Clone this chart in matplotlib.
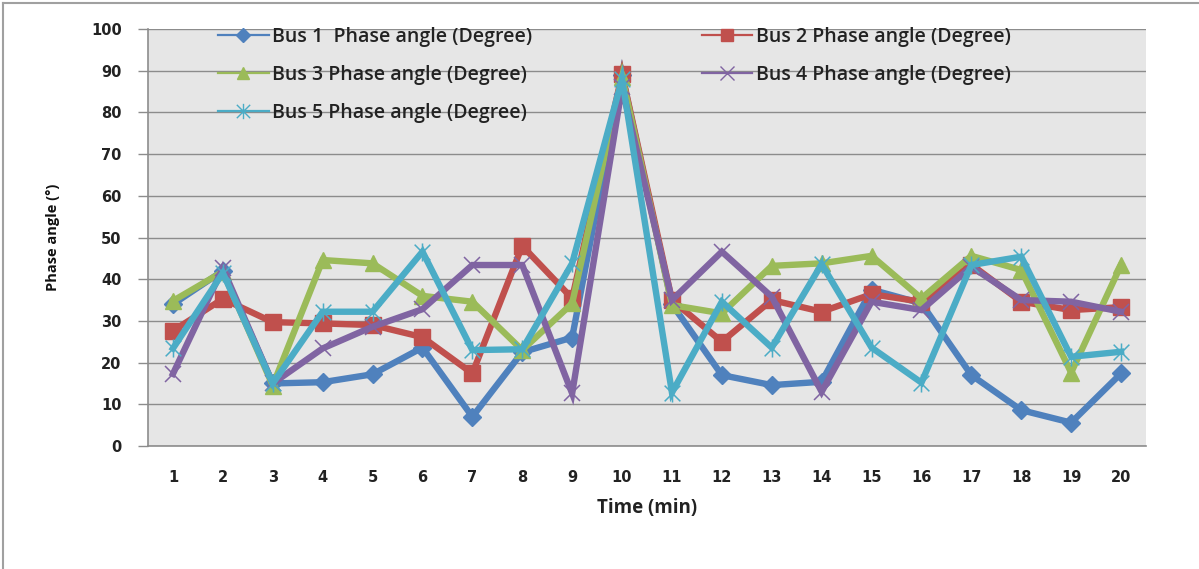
import matplotlib
matplotlib.use("Agg")
import matplotlib.pyplot as plt
from matplotlib.lines import Line2D
from matplotlib.path import Path
import numpy as np

# values
minutes = list(range(1, 21))
bus1 = [34, 42, 15, 15.3, 17.2, 23.6, 7, 22.5, 26, 89,
        34, 17, 14.6, 15.4, 37.5, 34.2, 17, 8.6, 5.6, 17.4]
bus2 = [27.6, 35.3, 29.7, 29.4, 29, 26.1, 17.4, 48, 35.4, 89.2,
        35, 25, 35, 32.2, 36.4, 34.6, 43.5, 34.6, 32.6, 33.3]
bus3 = [34.8, 41.8, 14.5, 44.6, 43.8, 36, 34.6, 23, 34.2, 88.5,
        33.8, 31.8, 43.2, 43.8, 45.6, 35.4, 45.6, 42.2, 17.6, 43.4]
bus4 = [17.3, 42.6, 15, 23.4, 28.6, 32.8, 43.4, 43.4, 12.6, 86,
        35, 46.6, 35.8, 13, 34.6, 32.6, 43, 35, 34.6, 32.2]
bus5 = [23.4, 41.5, 15, 32.2, 32.2, 46.6, 23, 23.2, 43.8, 88,
        12.8, 34.6, 23.6, 43.6, 23.6, 15.2, 43.4, 45.4, 21.4, 22.6]

labels = ["Bus 1  Phase angle (Degree)", "Bus 2 Phase angle (Degree)",
          "Bus 3 Phase angle (Degree)", "Bus 4 Phase angle (Degree)",
          "Bus 5 Phase angle (Degree)"]
colors = ["#4F81BD", "#C0504D", "#9BBB59", "#8064A2", "#4BACC6"]

star = Path([(-1, -1), (1, 1), (-1, 1), (1, -1), (0, -1.15), (0, 1.15)],
            [Path.MOVETO, Path.LINETO, Path.MOVETO, Path.LINETO, Path.MOVETO, Path.LINETO])

# marker style per series: (marker, size, filled)
styles = [("D", 9, True), ("s", 11, True), ("^", 12, True), ("x", 12, False), (star, 13, False)]

fig = plt.figure(figsize=(11.99, 5.69), dpi=100)
ax = fig.add_axes([148 / 1199, 123 / 569, 998 / 1199, 417 / 569])
ax.set_facecolor("#E6E6E6")

series = [bus1, bus2, bus3, bus4, bus5]
handles = []
for vals, col, (mk, ms, filled), lab in zip(series, colors, styles, labels):
    if filled:
        ax.plot(minutes, vals, color=col, lw=4.6, marker=mk, ms=ms,
                mfc=col, mec=col, solid_joinstyle="miter", zorder=3)
        h = Line2D([], [], color=col, lw=1.6, marker=mk, ms=ms * 0.75, mfc=col, mec=col)
    else:
        ax.plot(minutes, vals, color=col, lw=4.6, marker=mk, ms=ms,
                mfc="none", mec=col, mew=1.1, solid_joinstyle="miter", zorder=3)
        h = Line2D([], [], color=col, lw=1.6, marker=mk, ms=ms * 0.85, mfc="none", mec=col, mew=1.0)
    handles.append(h)

ax.set_xlim(0.5, 20.5)
ax.set_ylim(0, 100)
ax.set_yticks(range(0, 101, 10))
ax.set_xticks(minutes)
ax.grid(axis="y", color="#8C8C8C", lw=1.0, zorder=0)
ax.set_axisbelow(True)

for s in ["top", "right"]:
    ax.spines[s].set_visible(False)
for s in ["left", "bottom"]:
    ax.spines[s].set_color("#8C8C8C")
    ax.spines[s].set_linewidth(1.2)

ax.tick_params(axis="y", length=7, color="#8C8C8C", width=1.0, pad=12)
ax.tick_params(axis="x", length=0, pad=17)
for t in ax.get_yticklabels() + ax.get_xticklabels():
    t.set_fontfamily("DejaVu Sans")
    t.set_fontweight("bold")
    t.set_fontsize(10.5)
    t.set_color("#222222")

ax.set_xlabel("Time (min)", fontsize=13.5, fontweight="bold", family=["Open Sans", "DejaVu Sans"],
              labelpad=10, color="#222222")
ax.set_ylabel("Phase angle (°)", fontsize=10.5, fontweight="bold",
              family=["Open Sans", "DejaVu Sans"], labelpad=22, color="#111111")

# column-major legend order: 1,3,5 then 2,4
order = [0, 2, 4, 1, 3]
leg = ax.legend([handles[i] for i in order], [labels[i] for i in order], ncol=2,
                loc="upper left", bbox_to_anchor=(218 / 1199, 1 - 27 / 569),
                bbox_transform=fig.transFigure, frameon=False,
                prop={"family": ["Open Sans", "DejaVu Sans"], "size": 14, "weight": "semibold"},
                handlelength=2.6, handletextpad=0.2, columnspacing=8.7,
                labelspacing=0.93, borderpad=0, borderaxespad=0)
for t in leg.get_texts():
    t.set_color("#222222")

# outer frame of the chart
fig.add_artist(Line2D([3 / 1199, 3 / 1199], [0, 1 - 3 / 569], transform=fig.transFigure,
                      color="#A0A0A0", lw=1.5))
fig.add_artist(Line2D([3 / 1199, 1], [1 - 3 / 569, 1 - 3 / 569], transform=fig.transFigure,
                      color="#A0A0A0", lw=1.5))

fig.savefig("out.png", dpi=100)
